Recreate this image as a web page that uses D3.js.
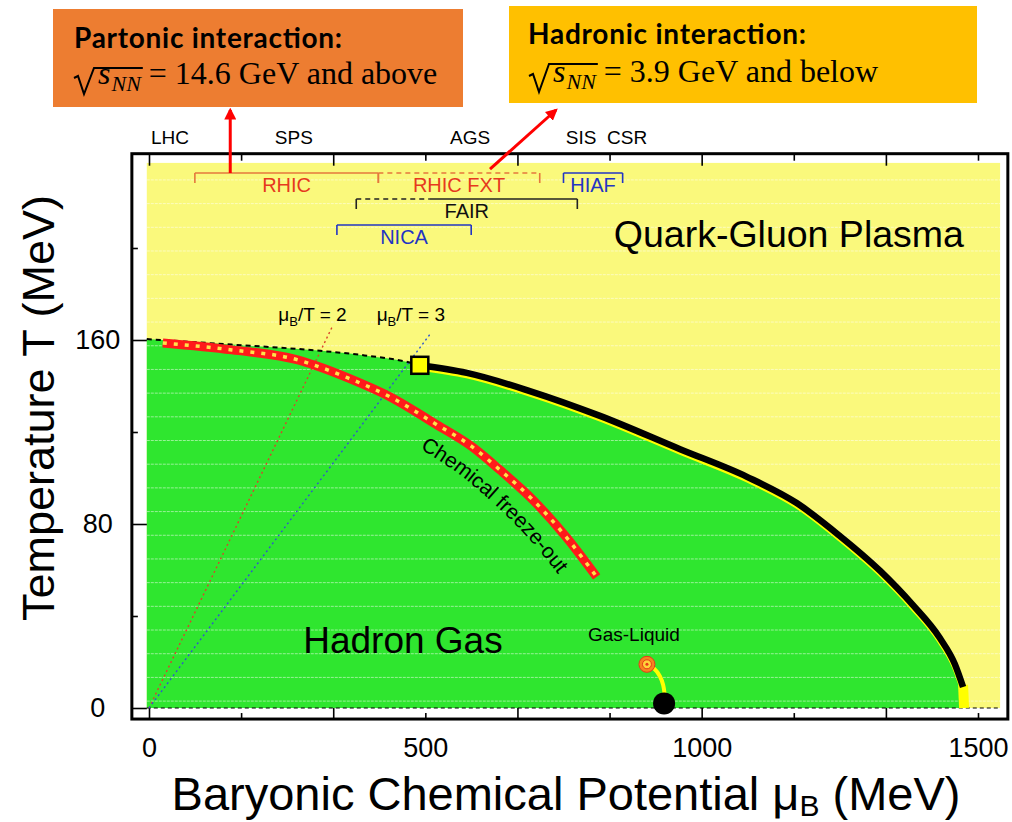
<!DOCTYPE html>
<html>
<head>
<meta charset="utf-8">
<script src="https://cdn.jsdelivr.net/npm/d3@7"></script>
<style>
  body { margin: 0; background: #fff; }
  svg { display: block; font-family: "Liberation Sans", Arial, Helvetica, sans-serif; }
</style>
</head>
<body>
<div id="chart"></div>
<script>
// phase boundary: crossover (dashed) up to the critical point, then first order line
const crossMu = [-4, 150, 300, 390, 470, 490];
const crossT = [160.4, 158, 155.5, 153.3, 150.3, 149];
const firstMu = [490, 575, 689, 816, 961, 1082, 1172, 1250, 1323, 1382, 1431, 1458, 1473];
const firstT = [149, 145.7, 137.8, 127, 112.5, 100.5, 89.1, 74.8, 59.6, 44.8, 30.4, 19.1, 9.1];
const critMu = 490, critT = 149;

// chemical freeze-out curve
const freezeMu = [25, 150, 270, 300, 360, 440, 515, 585, 635, 695, 755, 810];
const freezeT = [158.7, 155.7, 151.3, 149, 143.5, 134.8, 124, 113.5, 103.5, 90.4, 74.3, 57];

// mu_B/T lines, drawn from the origin to their upper end
const ratioValues = [2, 3];
const ratioTopMu = [332, 510];
const ratioTopT = [166, 163];

// nuclear gas-liquid transition
const glCritMu = 901, glCritT = 19;
const groundMu = 932, groundT = 2;
const glLineMu = [901, 914, 925, 931, 933];
const glLineT = [19, 17.5, 14, 10, 6];

// facilities (mu_B ranges); the part below solidFrom is dashed
const facilityNames = ["RHIC", "RHIC FXT", "HIAF", "FAIR", "NICA"];
const facilityFrom = [83, 415, 750, 375, 340];
const facilityTo = [415, 707, 857, 775, 583];
const facilitySolidFrom = [83, 707, 750, 507, 340];
const facilityRow = [0, 0, 0, 1, 2];

// accelerators on the top edge
const acceleratorNames = ["LHC", "SPS", "AGS", "SIS", "CSR"];
const acceleratorMu = [38, 262, 581, 782, 865];

const xTickLabels = [0, 500, 1000, 1500];
const yTickLabels = [0, 80, 160];
const yTicks = [0, 40, 80, 120, 160, 200];

// ---- layout / style ----
const W = 1012, H = 822;
const YELLOW = "#FAF97C", GREEN = "#2FE62F";
const rowT = [232.6, 221.3, 210];
const lineColor = { "RHIC": "#E5773C", "RHIC FXT": "#E5773C", "HIAF": "#2234C4", "FAIR": "#222", "NICA": "#2234C4" };
const textColor = { "RHIC": "#E6391E", "RHIC FXT": "#E6391E", "HIAF": "#2234C4", "FAIR": "#111", "NICA": "#2234C4" };
const SERIF = "'Liberation Serif', 'Times New Roman', serif";
const BOLD = "Lato, 'Open Sans', sans-serif";

const svg = d3.select("#chart").append("svg")
  .attr("width", W).attr("height", H)
  .style("background", "#fff");

const defs = svg.append("defs");
defs.append("marker")
  .attr("id", "arrow")
  .attr("viewBox", "0 0 10 10")
  .attr("refX", 8).attr("refY", 5)
  .attr("markerWidth", 4).attr("markerHeight", 4)
  .attr("orient", "auto")
  .append("path")
  .attr("d", "M0,0 L10,5 L0,10 Z")
  .attr("fill", "#F00");

const x = d3.scaleLinear().domain([0, 1500]).range([149, 978]);
const y = d3.scaleLinear().domain([0, 160]).range([708, 340]);

const muMin = -4, muMax = 1540, tMax = 237;
const frameMu = [-31, 1554], frameT = [-4.8, 241];

// background
svg.append("rect")
  .attr("x", x(muMin)).attr("y", y(tMax))
  .attr("width", x(muMax) - x(muMin)).attr("height", y(0) - y(tMax))
  .attr("fill", YELLOW);

// hadron gas region
const boundary = crossMu.map((m, i) => [m, crossT[i]])
  .concat(firstMu.slice(1).map((m, i) => [m, firstT[i + 1]]));
svg.append("path")
  .datum(boundary)
  .attr("d", d3.area().x(d => x(d[0])).y0(y(0)).y1(d => y(d[1])).curve(d3.curveMonotoneX))
  .attr("fill", GREEN);

// faint scan texture
svg.append("g").selectAll("line")
  .data(d3.range(3, tMax, 10.3))
  .join("line")
  .attr("x1", x(muMin)).attr("x2", x(muMax))
  .attr("y1", d => y(d)).attr("y2", d => y(d))
  .attr("stroke", "#fff").attr("stroke-opacity", 0.5)
  .attr("stroke-width", 1).attr("stroke-dasharray", "3,1");

// T = 0 dashed line
svg.append("line")
  .attr("x1", x(muMin)).attr("x2", x(muMax))
  .attr("y1", y(0)).attr("y2", y(0))
  .attr("stroke", "#000").attr("stroke-width", 1.2)
  .attr("stroke-dasharray", "4,3");

// frame
svg.append("rect")
  .attr("x", x(frameMu[0])).attr("y", y(frameT[1]))
  .attr("width", x(frameMu[1]) - x(frameMu[0]))
  .attr("height", y(frameT[0]) - y(frameT[1]))
  .attr("fill", "none").attr("stroke", "#000").attr("stroke-width", 3);

// axes
const xTickValues = d3.range(10).map(i => i * 500 / 3);
const topAxis = svg.append("g")
  .attr("transform", `translate(0,${y(frameT[1])})`)
  .call(d3.axisTop(x).tickValues(xTickValues).tickFormat("").tickSizeInner(-11).tickSizeOuter(0));
topAxis.select(".domain").remove();
topAxis.selectAll(".tick line").attr("y2", (d, i) => i % 2 ? 7 : 12).attr("stroke-width", 1.6);

const bottomAxis = svg.append("g")
  .attr("transform", `translate(0,${y(frameT[0])})`)
  .call(d3.axisBottom(x).tickValues(xTickValues).tickFormat("").tickSizeInner(-11).tickSizeOuter(0));
bottomAxis.select(".domain").remove();
bottomAxis.selectAll(".tick line").attr("y2", (d, i) => i % 2 ? -6 : -11).attr("stroke-width", 1.6);

const bottomLabels = svg.append("g")
  .attr("transform", `translate(0,${y(frameT[0])})`)
  .call(d3.axisBottom(x).tickValues(xTickLabels).tickFormat(d3.format("d")).tickSize(0).tickPadding(19));
bottomLabels.attr("font-family", null);
bottomLabels.select(".domain").remove();
bottomLabels.selectAll("text").attr("font-size", 27);

const leftAxis = svg.append("g")
  .attr("transform", `translate(${x(frameMu[0])},0)`)
  .call(d3.axisLeft(y).tickValues(yTicks).tickFormat("").tickSizeInner(-14).tickSizeOuter(0));
leftAxis.select(".domain").remove();
leftAxis.selectAll(".tick line").attr("x2", d => d % 80 === 0 ? 15 : 6).attr("stroke-width", 1.6);

const leftLabels = svg.append("g")
  .attr("transform", `translate(${x(frameMu[0])},0)`)
  .call(d3.axisLeft(y).tickValues(yTickLabels).tickSize(0));
leftLabels.attr("font-family", null);
leftLabels.select(".domain").remove();
leftLabels.selectAll("text")
  .attr("font-size", 27)
  .attr("text-anchor", "middle").attr("x", -34);

// accelerator labels above the frame
svg.append("g").selectAll("text")
  .data(acceleratorNames)
  .join("text")
  .attr("x", (d, i) => x(acceleratorMu[i]))
  .attr("y", 144)
  .attr("text-anchor", "middle")
  .attr("font-size", 19)
  .text(d => d);

// mu_B/T lines
const ratioColors = ["#D8452A", "#2F55D0"];
ratioValues.forEach((r, i) => {
  svg.append("line")
    .attr("x1", x(0)).attr("y1", y(0))
    .attr("x2", x(ratioTopMu[i])).attr("y2", y(ratioTopT[i]))
    .attr("stroke", ratioColors[i]).attr("stroke-width", 1.4)
    .attr("stroke-dasharray", "2,3");
  const t = svg.append("text")
    .attr("x", x(ratioTopMu[i]) - 20).attr("y", 321)
    .attr("text-anchor", "middle").attr("font-size", 19);
  t.append("tspan").text("\u03BC");
  t.append("tspan").attr("font-size", 13).attr("dy", 5).text("B");
  t.append("tspan").attr("dy", -5).text("/T = " + r);
});

// crossover
const lineGen = d3.line().x(d => x(d[0])).y(d => y(d[1])).curve(d3.curveMonotoneX);
svg.append("path")
  .datum(crossMu.map((m, i) => [m, crossT[i]]))
  .attr("d", lineGen)
  .attr("fill", "none").attr("stroke", "#000")
  .attr("stroke-width", 2).attr("stroke-dasharray", "5,4");

// freeze-out
const freezePts = freezeMu.map((m, i) => [m, freezeT[i]]);
svg.append("path").datum(freezePts).attr("d", lineGen)
  .attr("fill", "none").attr("stroke", "#FF1A1A").attr("stroke-width", 9);
svg.append("path").datum(freezePts).attr("d", lineGen)
  .attr("fill", "none").attr("stroke", "#FFE24A").attr("stroke-width", 3.5)
  .attr("stroke-dasharray", "4,7");

// label following the freeze-out curve
const px = freezePts.map(d => [x(d[0]), y(d[1])]);
const off = 29;
const offPts = px.map((p, i) => {
  const a = px[Math.max(i - 1, 0)], b = px[Math.min(i + 1, px.length - 1)];
  const dx = b[0] - a[0], dy = b[1] - a[1], len = Math.hypot(dx, dy);
  return [p[0] - dy / len * off, p[1] + dx / len * off];
}).slice(3);
defs.append("path").attr("id", "freezePath")
  .attr("d", d3.line().curve(d3.curveBasis)(offPts));
svg.append("text").attr("font-size", 21)
  .append("textPath").attr("href", "#freezePath")
  .attr("startOffset", "65%").attr("text-anchor", "middle")
  .text("Chemical freeze-out");

// first order line
const firstPts = firstMu.map((m, i) => [m, firstT[i]]);
svg.append("path").datum(firstPts).attr("d", lineGen)
  .attr("transform", "translate(0,2.5)")
  .attr("fill", "none").attr("stroke", "#FFFF00").attr("stroke-width", 6);
svg.append("line")
  .attr("x1", x(firstMu[firstMu.length - 1])).attr("y1", y(firstT[firstT.length - 1]) - 2)
  .attr("x2", x(firstMu[firstMu.length - 1]) + 1).attr("y2", y(0))
  .attr("stroke", "#FFFF00").attr("stroke-width", 10);
svg.append("path").datum(firstPts).attr("d", lineGen)
  .attr("fill", "none").attr("stroke", "#000").attr("stroke-width", 6.5);

// critical point
svg.append("rect")
  .attr("x", x(critMu) - 8.5).attr("y", y(critT) - 8.5)
  .attr("width", 17).attr("height", 17)
  .attr("fill", "#FFFF00").attr("stroke", "#000").attr("stroke-width", 2.5);

// gas-liquid
svg.append("path")
  .datum(glLineMu.map((m, i) => [m, glLineT[i]]))
  .attr("d", d3.line().x(d => x(d[0])).y(d => y(d[1])).curve(d3.curveBasis))
  .attr("fill", "none").attr("stroke", "#FFFF00").attr("stroke-width", 4);
svg.append("circle").attr("cx", x(glCritMu)).attr("cy", y(glCritT)).attr("r", 8)
  .attr("fill", "#F5841F").attr("stroke", "#E83A1A").attr("stroke-width", 1);
svg.append("circle").attr("cx", x(glCritMu)).attr("cy", y(glCritT)).attr("r", 4.5)
  .attr("fill", "#FFD23A").attr("stroke", "#E83A1A").attr("stroke-width", 1);
svg.append("circle").attr("cx", x(glCritMu)).attr("cy", y(glCritT)).attr("r", 1.5)
  .attr("fill", "#E83A1A");
svg.append("circle").attr("cx", x(groundMu)).attr("cy", y(groundT)).attr("r", 11)
  .attr("fill", "#000");
svg.append("text").attr("x", x(glCritMu) - 59).attr("y", 641)
  .attr("font-size", 19).text("Gas-Liquid");

// region labels
svg.append("text").attr("x", x(841)).attr("y", y(200.4))
  .attr("font-size", 37.5).text("Quark-Gluon Plasma");
svg.append("text").attr("x", x(279)).attr("y", y(23.9))
  .attr("font-size", 37).text("Hadron Gas");

// facility brackets
facilityNames.forEach((name, i) => {
  const yy = y(rowT[facilityRow[i]]);
  const a = x(facilityFrom[i]), s = x(facilitySolidFrom[i]), b = x(facilityTo[i]);
  const g = svg.append("g").attr("stroke", lineColor[name]).attr("stroke-width", 1.6).attr("fill", "none");
  if (s > a) g.append("line").attr("x1", a).attr("x2", s).attr("y1", yy).attr("y2", yy).attr("stroke-dasharray", "5,4");
  if (b > s) g.append("line").attr("x1", s).attr("x2", b).attr("y1", yy).attr("y2", yy);
  [a, b].forEach(t => g.append("line").attr("x1", t).attr("x2", t).attr("y1", yy).attr("y2", yy + 10));
  svg.append("text")
    .attr("x", (a + b) / 2).attr("y", yy + 19)
    .attr("text-anchor", "middle").attr("font-size", 20)
    .attr("fill", textColor[name]).text(name);
});

// axis titles
const xt = svg.append("text").attr("x", 566).attr("y", 810)
  .attr("text-anchor", "middle").attr("font-size", 47);
xt.append("tspan").text("Baryonic Chemical Potential \u03BC");
xt.append("tspan").attr("font-size", 30).attr("dy", 6).text("B");
xt.append("tspan").attr("dy", -6).text(" (MeV)");

svg.append("text")
  .attr("transform", "translate(54,408) rotate(-90)")
  .attr("text-anchor", "middle").attr("font-size", 45)
  .text("Temperature T (MeV)");

// annotation boxes
function sqrtLine(x0, base, rest, topOff) {
  const s = svg.append("text").attr("x", x0 + 24).attr("y", base)
    .style("font-family", SERIF).attr("font-style", "italic").attr("font-size", 32).text("s");
  const sw = s.node().getComputedTextLength();
  const nn = svg.append("text").attr("x", x0 + 24 + sw + 1).attr("y", base + 7)
    .style("font-family", SERIF).attr("font-style", "italic").attr("font-size", 22).text("NN");
  const nw = nn.node().getComputedTextLength();
  const end = x0 + 24 + sw + 1 + nw + 2;
  svg.append("path")
    .attr("d", `M${x0},${base - 6} L${x0 + 4},${base - 8} L${x0 + 10},${base + 10} L${x0 + 20},${base - topOff} L${end},${base - topOff}`)
    .attr("fill", "none").attr("stroke", "#000").attr("stroke-width", 2);
  svg.append("text").attr("x", end + 6).attr("y", base)
    .style("font-family", SERIF).attr("font-size", 32).text(rest);
}

svg.append("rect").attr("x", 53).attr("y", 9).attr("width", 410).attr("height", 98).attr("fill", "#ED7D31");
svg.append("text").attr("x", 74).attr("y", 48)
  .style("font-family", BOLD).attr("font-weight", 700).attr("font-size", 28)
  .attr("textLength", 268).attr("lengthAdjust", "spacing")
  .text("Partonic interaction:");
sqrtLine(74, 84, "= 14.6 GeV and above", 16);

svg.append("rect").attr("x", 509).attr("y", 6).attr("width", 468).attr("height", 97).attr("fill", "#FFC000");
svg.append("text").attr("x", 528).attr("y", 44)
  .style("font-family", BOLD).attr("font-weight", 700).attr("font-size", 28)
  .attr("textLength", 278).attr("lengthAdjust", "spacing")
  .text("Hadronic interaction:");
sqrtLine(529, 82, "= 3.9 GeV and below", 18);

// arrows from the facility ranges to the boxes
svg.append("line")
  .attr("x1", x(147)).attr("y1", y(rowT[0]))
  .attr("x2", x(147)).attr("y2", 110)
  .attr("stroke", "#F00").attr("stroke-width", 3).attr("marker-end", "url(#arrow)");
svg.append("line")
  .attr("x1", x(617)).attr("y1", y(rowT[0]) - 4)
  .attr("x2", 556).attr("y2", 110)
  .attr("stroke", "#F00").attr("stroke-width", 3).attr("marker-end", "url(#arrow)");
</script>
</body>
</html>
